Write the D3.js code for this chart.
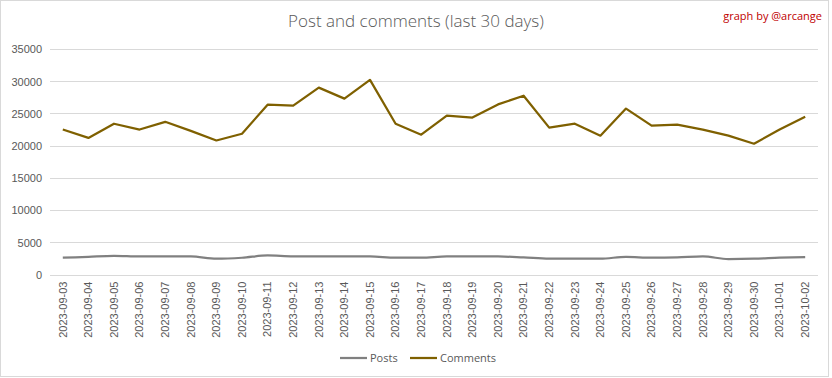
<!DOCTYPE html>
<html>
<head>
<meta charset="utf-8">
<script src="https://cdn.jsdelivr.net/npm/d3@7"></script>
<style>
  html, body { margin: 0; padding: 0; background: #fff; }
  svg { display: block; font-family: "Open Sans", "Liberation Sans", sans-serif; }
</style>
</head>
<body>
<svg id="chart" width="832" height="378"></svg>
<script>
const dates = ["2023-09-03","2023-09-04","2023-09-05","2023-09-06","2023-09-07","2023-09-08","2023-09-09","2023-09-10","2023-09-11","2023-09-12","2023-09-13","2023-09-14","2023-09-15","2023-09-16","2023-09-17","2023-09-18","2023-09-19","2023-09-20","2023-09-21","2023-09-22","2023-09-23","2023-09-24","2023-09-25","2023-09-26","2023-09-27","2023-09-28","2023-09-29","2023-09-30","2023-10-01","2023-10-02"];
const posts = [2600,2750,2900,2800,2800,2800,2450,2600,2950,2800,2800,2800,2800,2600,2600,2800,2800,2800,2650,2450,2450,2450,2750,2600,2650,2800,2400,2450,2600,2700];
const comments = [22500,21200,23400,22500,23700,22300,20800,21850,26350,26200,29000,27300,30200,23400,21700,24650,24350,26400,27750,22800,23400,21550,25750,23100,23250,22500,21550,20300,22500,24500];
const yTicks = [0,5000,10000,15000,20000,25000,30000,35000];
const seriesNames = ["Posts","Comments"];
const seriesColors = ["#808080","#7f6000"];

const svg = d3.select("#chart");
const W = 832, H = 378;
const plot = {left: 50, right: 818, top: 49, bottom: 274.5};

// outer border
svg.append("rect").attr("x",0.5).attr("y",0.5).attr("width",828).attr("height",376)
  .attr("fill","#fff").attr("stroke","#d9d9d9").attr("stroke-width",1);

const x = d3.scaleBand().domain(dates).range([plot.left, plot.right]);
const y = d3.scaleLinear().domain([0,35000]).range([plot.bottom, plot.top]);

// gridlines
svg.append("g").selectAll("line").data(yTicks).join("line")
  .attr("x1",plot.left).attr("x2",plot.right)
  .attr("y1",d=>Math.round(y(d))+0.5).attr("y2",d=>Math.round(y(d))+0.5)
  .attr("stroke","#d9d9d9").attr("stroke-width",1);

// y axis labels
const yAxis = d3.axisLeft(y).tickValues(yTicks).tickSize(0).tickPadding(0).tickFormat(d3.format("d"));
const gy = svg.append("g").attr("transform",`translate(42,0)`).call(yAxis);
gy.select(".domain").remove();
gy.selectAll("text").attr("fill","#595959").style("font-size","11px").attr("dy","0.35em");

// x axis labels
const xAxis = d3.axisBottom(x).tickSize(0).tickPadding(0);
const gx = svg.append("g").attr("transform",`translate(0,${plot.bottom})`).call(xAxis);
gx.select(".domain").remove();
gx.selectAll("text")
  .attr("fill","#595959").style("font-size","11px")
  .attr("text-anchor","end")
  .attr("transform","translate(0,7) rotate(-90)")
  .attr("x",0).attr("y",0).attr("dy","0.35em");

const cx = d => x(d) + x.bandwidth()/2;

// lines
const lineStraight = d3.line().x((d,i)=>cx(dates[i])).y(d=>y(d));
const lineSmooth = d3.line().x((d,i)=>cx(dates[i])).y(d=>y(d)).curve(d3.curveMonotoneX);

svg.append("path").datum(posts).attr("d",lineSmooth)
  .attr("fill","none").attr("stroke",seriesColors[0]).attr("stroke-width",2.25).attr("stroke-linejoin","round");
svg.append("path").datum(comments).attr("d",lineStraight)
  .attr("fill","none").attr("stroke",seriesColors[1]).attr("stroke-width",2.25).attr("stroke-linejoin","round");

// title
svg.append("text").attr("x",416).attr("y",27).attr("text-anchor","middle")
  .attr("fill","#595959").style("font-size","17px").style("font-weight","300")
  .text("Post and comments (last 30 days)");

svg.append("text").attr("x",822).attr("y",20).attr("text-anchor","end")
  .attr("fill","#c00000").style("font-size","11px")
  .text("graph by @arcange");

// legend
const legendItems = [
  {name: seriesNames[0], color: seriesColors[0], x0: 340},
  {name: seriesNames[1], color: seriesColors[1], x0: 410}
];
const lg = svg.append("g");
legendItems.forEach(it => {
  lg.append("line").attr("x1",it.x0).attr("x2",it.x0+27).attr("y1",358).attr("y2",358)
    .attr("stroke",it.color).attr("stroke-width",2.25);
  lg.append("text").attr("x",it.x0+30).attr("y",358).attr("dy","0.35em")
    .attr("fill","#595959").style("font-size","11px").text(it.name);
});
</script>
</body>
</html>
